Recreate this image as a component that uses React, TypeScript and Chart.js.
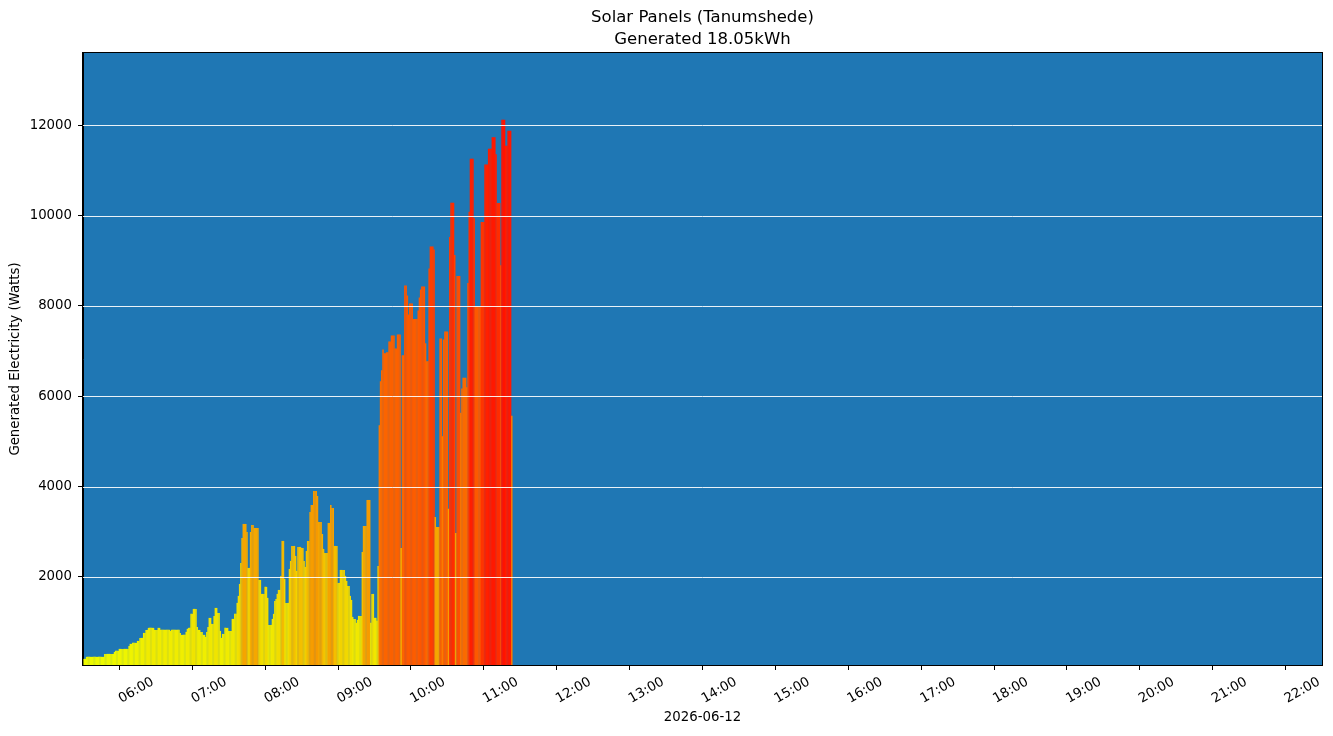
import React, { useEffect, useRef } from "react";
import { Chart, registerables } from "chart.js";

Chart.register(...registerables);

const TITLE_LINES = ["Solar Panels (Tanumshede)", "Generated 18.05kWh"];
const X_LABEL = "2026-06-12";
const Y_LABEL = "Generated Electricity (Watts)";

// Axis range in minutes after 05:00
const X_MIN = 0;
const X_MAX = 1020;
const Y_MIN = 50;
const Y_MAX = 13600;

const hourTicks = [
  "06:00", "07:00", "08:00", "09:00", "10:00", "11:00", "12:00", "13:00", "14:00",
  "15:00", "16:00", "17:00", "18:00", "19:00", "20:00", "21:00", "22:00",
];
const yTicks = [2000, 4000, 6000, 8000, 10000, 12000];

// First sample is 1 minute after 05:00, one sample per minute
const FIRST_MINUTE = 1;
const watts = [
  186, 186, 230, 230, 230, 230, 230, 230, 230, 230,
  230, 230, 230, 230, 230, 230, 230, 296, 296, 296,
  296, 296, 296, 296, 296, 340, 363, 363, 363, 407,
  407, 407, 407, 407, 407, 407, 407, 473, 518, 518,
  540, 540, 540, 540, 584, 584, 650, 650, 650, 761,
  761, 827, 827, 872, 872, 872, 872, 872, 827, 827,
  827, 872, 872, 830, 830, 830, 830, 830, 830, 830,
  830, 805, 830, 830, 830, 830, 830, 830, 830, 761,
  717, 717, 717, 717, 783, 850, 872, 872, 1182, 1182,
  1292, 1292, 1292, 894, 827, 827, 783, 783, 717, 717,
  672, 783, 894, 1093, 1093, 960, 960, 1137, 1314, 1314,
  1204, 1204, 805, 650, 739, 739, 872, 872, 872, 805,
  805, 805, 1071, 1071, 1182, 1182, 1425, 1580, 1845, 2310,
  2863, 3173, 3173, 3173, 2995, 2200, 2200, 2995, 3150, 3150,
  3084, 3084, 3084, 3084, 1934, 1934, 1624, 1624, 1624, 1780,
  1780, 1536, 938, 938, 938, 1071, 1182, 1469, 1513, 1624,
  1712, 1712, 2022, 2797, 2797, 1956, 1425, 1425, 1425, 2177,
  2354, 2686, 2686, 2686, 2465, 2133, 2664, 2664, 2664, 2640,
  2640, 2354, 2221, 2575, 2797, 2797, 3438, 3593, 3593, 3903,
  3903, 3903, 3792, 3217, 3217, 3217, 2951, 2620, 2531, 2531,
  2531, 3195, 3195, 3593, 3526, 3526, 2686, 2686, 2686, 1867,
  1867, 2155, 2155, 2155, 2155, 2022, 1912, 1801, 1801, 1580,
  1491, 1115, 1071, 1071, 983, 1049, 1137, 1137, 1137, 2553,
  3128, 3128, 3128, 3704, 3704, 3704, 983, 1624, 1624, 1094,
  1094, 1027, 2243, 5359, 6331, 6574, 7038, 6950, 6950, 6972,
  6972, 7215, 7215, 7348, 7348, 7348, 7060, 7060, 7370, 7370,
  7370, 2641, 6906, 6906, 8453, 8453, 8232, 7812, 8055, 8055,
  8055, 7710, 7710, 7710, 7710, 7900, 8187, 8364, 8430, 8430,
  8430, 7171, 6773, 6773, 8828, 9314, 9314, 9314, 9248, 3326,
  3105, 3105, 3105, 7281, 7281, 5116, 7259, 7436, 7436, 7436,
  3510, 9524, 10283, 10283, 10283, 9125, 2975, 8661, 8661, 8661,
  5634, 6170, 6409, 6409, 6409, 6200, 8510, 10083, 11257, 11257,
  11257, 9939, 7990, 7990, 7990, 7990, 7990, 9859, 9859, 9859,
  11130, 11130, 11130, 11481, 11481, 11481, 11736, 11736, 11736, 11361,
  10280, 10280, 10280, 8901, 12120, 12120, 12120, 11545, 11545, 11880,
  11880, 11880, 5571,
];

// Colour ramp (watts -> [R, G]) yellow to red
const colorStops: [number, number, number][] = [
  [0, 236, 255], [800, 240, 236], [1300, 240, 228], [2300, 242, 208],
  [2800, 244, 185], [3100, 245, 166], [3900, 246, 152], [5500, 249, 118],
  [7000, 251, 100], [8400, 253, 86], [9300, 255, 62], [10300, 255, 45],
  [11500, 255, 28], [12200, 255, 18],
];

function colorFor(v: number): string {
  if (v <= colorStops[0][0]) return `rgb(${colorStops[0][1]},${colorStops[0][2]},0)`;
  for (let i = 1; i < colorStops.length; i++) {
    const [v1, r1, g1] = colorStops[i];
    const [v0, r0, g0] = colorStops[i - 1];
    if (v <= v1) {
      const t = (v - v0) / (v1 - v0);
      return `rgb(${Math.round(r0 + (r1 - r0) * t)},${Math.round(g0 + (g1 - g0) * t)},0)`;
    }
  }
  const last = colorStops[colorStops.length - 1];
  return `rgb(${last[1]},${last[2]},0)`;
}

function hourToMinutes(label: string): number {
  const [h, m] = label.split(":").map(Number);
  return (h - 5) * 60 + m;
}

const FONT = "DejaVu Sans";
const PLOT_BG = "#1f77b4";

const decorPlugin = {
  id: "decor",
  beforeDraw(chart: any) {
    const { ctx, chartArea: a } = chart;
    ctx.save();
    ctx.fillStyle = "#ffffff";
    ctx.fillRect(0, 0, chart.width, chart.height);
    ctx.fillStyle = PLOT_BG;
    ctx.fillRect(a.left, a.top, a.right - a.left, a.bottom - a.top);
    ctx.restore();
  },
  afterDatasetsDraw(chart: any) {
    const { ctx, chartArea: a, scales } = chart;
    ctx.save();
    ctx.strokeStyle = "rgba(255,255,255,0.9)";
    ctx.lineWidth = 1;
    for (const t of yTicks) {
      const y = Math.round(scales.y.getPixelForValue(t)) + 0.5;
      ctx.beginPath();
      ctx.moveTo(a.left, y);
      ctx.lineTo(a.right, y);
      ctx.stroke();
    }
    ctx.restore();
  },
  afterDraw(chart: any) {
    const { ctx, chartArea: a } = chart;
    ctx.save();
    ctx.strokeStyle = "#000";
    ctx.lineWidth = 1;
    ctx.strokeRect(Math.round(a.left) - 0.5, Math.round(a.top) - 0.5, Math.round(a.right - a.left) + 1, Math.round(a.bottom - a.top) + 1);
    const cx = (a.left + a.right) / 2;
    ctx.fillStyle = "#000";
    ctx.textAlign = "center";
    ctx.textBaseline = "middle";
    ctx.font = `16.5px "${FONT}"`;
    ctx.fillText(TITLE_LINES[0], cx, 18);
    ctx.fillText(TITLE_LINES[1], cx, 40);
    ctx.font = `13.3px "${FONT}"`;
    ctx.fillText(X_LABEL, cx, 718);
    ctx.translate(16, (a.top + a.bottom) / 2);
    ctx.rotate(-Math.PI / 2);
    ctx.fillText(Y_LABEL, 0, 0);
    ctx.restore();
  },
};

export default function App() {
  const canvasRef = useRef<HTMLCanvasElement | null>(null);

  useEffect(() => {
    const canvas = canvasRef.current;
    if (!canvas) return;
    const data = watts.map((w, i) => ({ x: FIRST_MINUTE + i, y: w }));
    const chart = new Chart(canvas, {
      type: "bar",
      data: {
        datasets: [
          {
            data,
            backgroundColor: (c: any) => colorFor(c.raw ? c.raw.y : 0),
            borderWidth: 0,
            barPercentage: 1.3,
            categoryPercentage: 1,
            grouped: false,
          } as any,
        ],
      },
      options: {
        animation: false,
        responsive: false,
        devicePixelRatio: 1,
        layout: { padding: { top: 53, right: 11, left: 0, bottom: 0 } },
        plugins: {
          legend: { display: false },
          tooltip: { enabled: false },
          title: { display: false },
        },
        scales: {
          x: {
            type: "linear",
            min: X_MIN,
            max: X_MAX,
            offset: false,
            grid: {
              drawOnChartArea: false,
              drawTicks: true,
              tickLength: 5,
              tickColor: "#000",
              tickWidth: 1,
            },
            border: { display: true, color: "#000", width: 1 },
            ticks: {
              autoSkip: false,
              maxRotation: 30,
              minRotation: 30,
              padding: 4,
              labelOffset: -3,
              color: "#000",
              font: { family: FONT, size: 13.3 },
              callback: (_v: any, i: number) => hourTicks[i],
            },
            afterBuildTicks: (scale: any) => {
              scale.ticks = hourTicks.map((h) => ({ value: hourToMinutes(h) }));
            },
            afterFit: (scale: any) => {
              scale.height = 71;
              scale.paddingLeft = 0;
              scale.paddingRight = 0;
            },
          },
          y: {
            type: "linear",
            min: Y_MIN,
            max: Y_MAX,
            grid: {
              drawOnChartArea: false,
              drawTicks: true,
              tickLength: 5,
              tickColor: "#000",
              tickWidth: 1,
            },
            border: { display: true, color: "#000", width: 1 },
            ticks: {
              padding: 6,
              color: "#000",
              font: { family: FONT, size: 13.3 },
              callback: (v: any) => String(v),
            },
            afterBuildTicks: (scale: any) => {
              scale.ticks = yTicks.map((t) => ({ value: t }));
            },
            afterFit: (scale: any) => {
              scale.width = 83;
              scale.paddingTop = 0;
              scale.paddingBottom = 0;
            },
          },
        },
      } as any,
      plugins: [decorPlugin],
    });
    return () => chart.destroy();
  }, []);

  return (
    <div style={{ position: "fixed", left: 0, top: 0, width: 1333, height: 736, background: "#fff" }}>
      <canvas ref={canvasRef} width={1333} height={736} style={{ display: "block" }} />
    </div>
  );
}
